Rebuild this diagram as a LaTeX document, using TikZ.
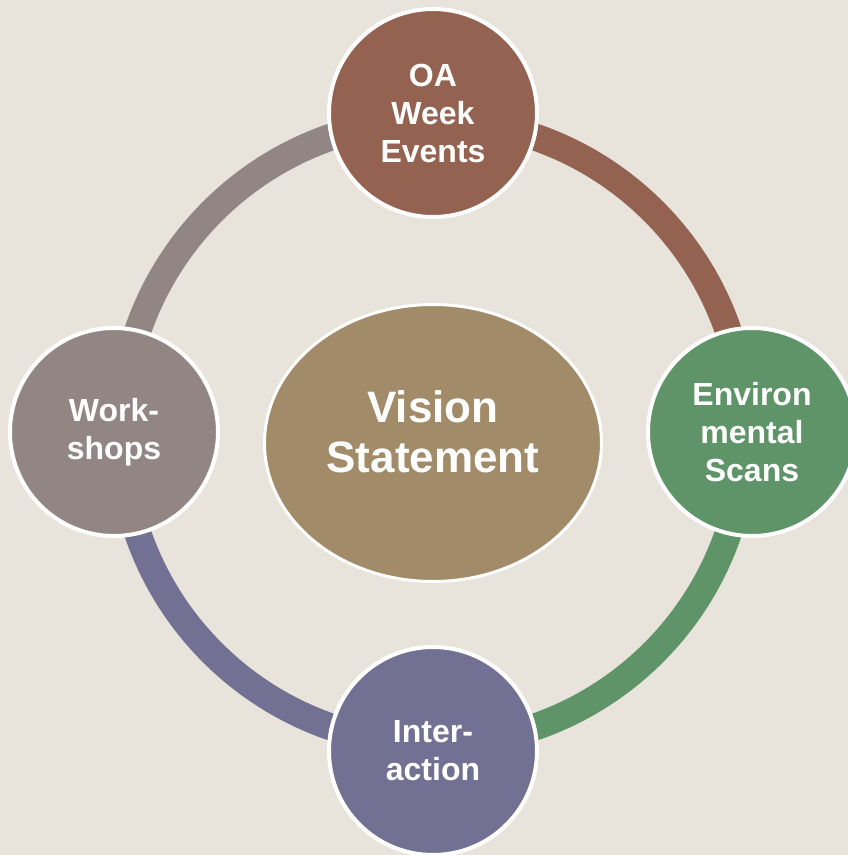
\documentclass[tikz,border=0pt]{standalone}
\usepackage{fontspec}
\setmainfont{Liberation Sans}
\usetikzlibrary{shapes.geometric}
\definecolor{bgcream}{HTML}{E8E4DC}
\definecolor{oabrown}{HTML}{946250}
\definecolor{envgreen}{HTML}{5E9468}
\definecolor{interpurple}{HTML}{727194}
\definecolor{workgray}{HTML}{918684}
\definecolor{visiontan}{HTML}{A18B68}
\def\ringr{312}
\def\satr{319}

\begin{document}
\begin{tikzpicture}[x=1pt,y=1pt,
    ring/.style={line width=27pt},
    sat/.style={circle, draw=white, line width=4pt, minimum size=208pt,
      text=white, align=center, inner sep=0pt,
      font=\bfseries\fontsize{32}{38}\selectfont},
    hub/.style={ellipse, draw=white, line width=3pt, fill=visiontan,
      minimum width=337pt, minimum height=277pt}]
  \fill[bgcream] (-433,-423) rectangle (415,432);
  \useasboundingbox (-433,-423) rectangle (415,432);

  \coordinate (centre) at (0,0);
  % ring segments, under the circles
  \draw[ring, oabrown] (centre) ++(90:\ringr) arc[start angle=90, end angle=0, radius=\ringr];
  \draw[ring, envgreen] (centre) ++(0:\ringr) arc[start angle=0, end angle=-90, radius=\ringr];
  \draw[ring, interpurple] (centre) ++(-90:\ringr) arc[start angle=-90, end angle=-180, radius=\ringr];
  \draw[ring, workgray] (centre) ++(180:\ringr) arc[start angle=180, end angle=90, radius=\ringr];

  \node[hub] (vision) at (0,-11) {};
  \node[text=white, align=center, font=\bfseries\fontsize{44}{50}\selectfont] (visiontext) at (centre) {Vision\\Statement};

  \node[sat, fill=oabrown] (oa) at (90:\satr) {OA\\Week\\Events};
  \node[sat, fill=envgreen] (env) at (0:\satr) {Environ\\mental\\Scans};
  \node[sat, fill=interpurple] (inter) at (-90:\satr) {Inter-\\action};
  \node[sat, fill=workgray] (work) at (180:\satr) {Work-\\shops};
\end{tikzpicture}
\end{document}
